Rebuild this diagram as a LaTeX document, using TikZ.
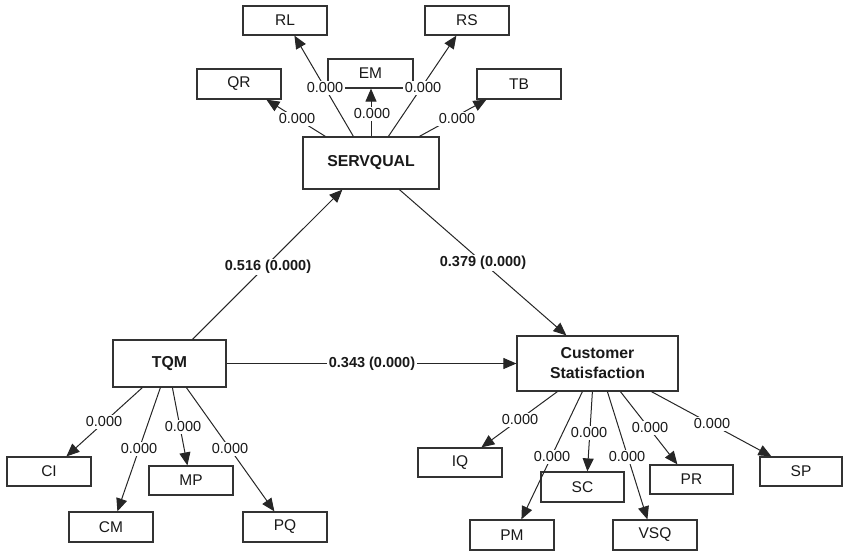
\documentclass[tikz,border=0pt]{standalone}
\usepackage{fontspec}
\setmainfont{Liberation Sans}
\usetikzlibrary{arrows.meta,calc}
\begin{document}
\begin{tikzpicture}[x=1pt,y=-1pt,
  box/.style={draw=black!80,line width=1.2pt,fill=white,minimum width=84pt,minimum height=29pt,inner sep=0pt,font=\fontsize{15.5}{18}\selectfont,text=black!90},
  bigbox/.style={box,font=\fontsize{15.8}{20}\selectfont\bfseries,align=center},
  arr/.style={draw=black!85,line width=1pt,-{Triangle[length=13pt,width=11pt]}},
  lbl/.style={fill=white,inner sep=1.5pt,font=\fontsize{14.5}{17}\selectfont,text=black!90},
  blbl/.style={lbl,font=\fontsize{14.5}{17}\selectfont\bfseries}]
\useasboundingbox (0,0) rectangle (843,552);
% boxes
\node[box] (rl) at (285,20.5) {RL};
\node[box] (rs) at (467,20.5) {RS};
\node[box,minimum width=85pt] (em) at (370.5,73.5) {EM};
\node[box,minimum height=30pt] (qr) at (239,84) {QR};
\node[box,minimum height=30pt] (tb) at (519,84) {TB};
\node[bigbox,minimum width=136pt,minimum height=52pt] (sq) at (371,163) {SERVQUAL};
\node[bigbox,minimum width=113pt,minimum height=47pt] (tqm) at (169.5,363.5) {TQM};
\node[bigbox,minimum width=161pt,minimum height=55pt] (cs) at (597.5,363.5) {Customer\\Statisfaction};
\node[box] (ci) at (49,471.5) {CI};
\node[box,minimum height=30pt] (cm) at (111,527) {CM};
\node[box] (mp) at (191,480.5) {MP};
\node[box,minimum height=30pt] (pq) at (285,527) {PQ};
\node[box] (iq) at (460,462.5) {IQ};
\node[box,minimum width=83pt,minimum height=30pt] (sc) at (582.5,487) {SC};
\node[box,minimum height=30pt] (pm) at (512,535) {PM};
\node[box,minimum height=30pt] (vsq) at (655,535) {VSQ};
\node[box,minimum width=83pt] (pr) at (691.5,479.5) {PR};
\node[box,minimum width=82pt] (sp) at (801,471.5) {SP};
% connectors
\draw[arr] ($(sq.north west)+(23,0)$) -- ($(qr.south west)+(70,0)$);
\draw[arr] ($(sq.north west)+(51,0)$) -- ($(rl.south west)+(52,0)$);
\draw[arr] (sq.north) -- (sq.north |- em.south);
\draw[arr] ($(sq.north west)+(86,0)$) -- ($(rs.south west)+(32,0)$);
\draw[arr] ($(sq.north west)+(117,0)$) -- ($(tb.south west)+(10,0)$);
\draw[arr] ($(tqm.north west)+(80,0)$) -- ($(sq.south west)+(40,0)$);
\draw[arr] ($(sq.south west)+(97,0)$) -- ($(cs.north west)+(50,0)$);
\draw[arr] (tqm.east) -- (cs.west);
\draw[arr] ($(tqm.south west)+(30,0)$) -- ($(ci.north west)+(60,0)$);
\draw[arr] ($(tqm.south west)+(48,0)$) -- ($(cm.north west)+(49,0)$);
\draw[arr] ($(tqm.south west)+(60,0)$) -- ($(mp.north west)+(39,0)$);
\draw[arr] ($(tqm.south west)+(74,0)$) -- ($(pq.north west)+(32,0)$);
\draw[arr] ($(cs.south west)+(41,0)$) -- ($(iq.north west)+(64,0)$);
\draw[arr] ($(cs.south west)+(66,0)$) -- ($(pm.north west)+(52,0)$);
\draw[arr] ($(cs.south west)+(76,0)$) -- ($(sc.north west)+(47,0)$);
\draw[arr] ($(cs.south west)+(91,0)$) -- ($(vsq.north west)+(35,0)$);
\draw[arr] ($(cs.south west)+(104,0)$) -- ($(pr.north west)+(28,0)$);
\draw[arr] ($(cs.south west)+(135,0)$) -- ($(sp.north west)+(12,0)$);
% labels
\node[lbl] (lqr) at (297,119) {0.000};
\node[lbl] (lrl) at (325,88) {0.000};
\node[lbl] (lem) at (372,114) {0.000};
\node[lbl] (lrs) at (423,88) {0.000};
\node[lbl] (ltb) at (457,119) {0.000};
\node[blbl] (ltsq) at (268,267) {0.516 (0.000)};
\node[blbl] (lsqcs) at (483,263) {0.379 (0.000)};
\node[blbl] (ltcs) at (372,363.5) {0.343 (0.000)};
\node[lbl] (lci) at (104,422) {0.000};
\node[lbl] (lcm) at (139,449) {0.000};
\node[lbl] (lmp) at (183,427) {0.000};
\node[lbl] (lpq) at (230,449) {0.000};
\node[lbl] (liq) at (520,420) {0.000};
\node[lbl] (lpm) at (552,457) {0.000};
\node[lbl] (lsc) at (589,433) {0.000};
\node[lbl] (lvsq) at (627,457) {0.000};
\node[lbl] (lpr) at (650,428) {0.000};
\node[lbl] (lsp) at (712,424) {0.000};
\end{tikzpicture}
\end{document}
